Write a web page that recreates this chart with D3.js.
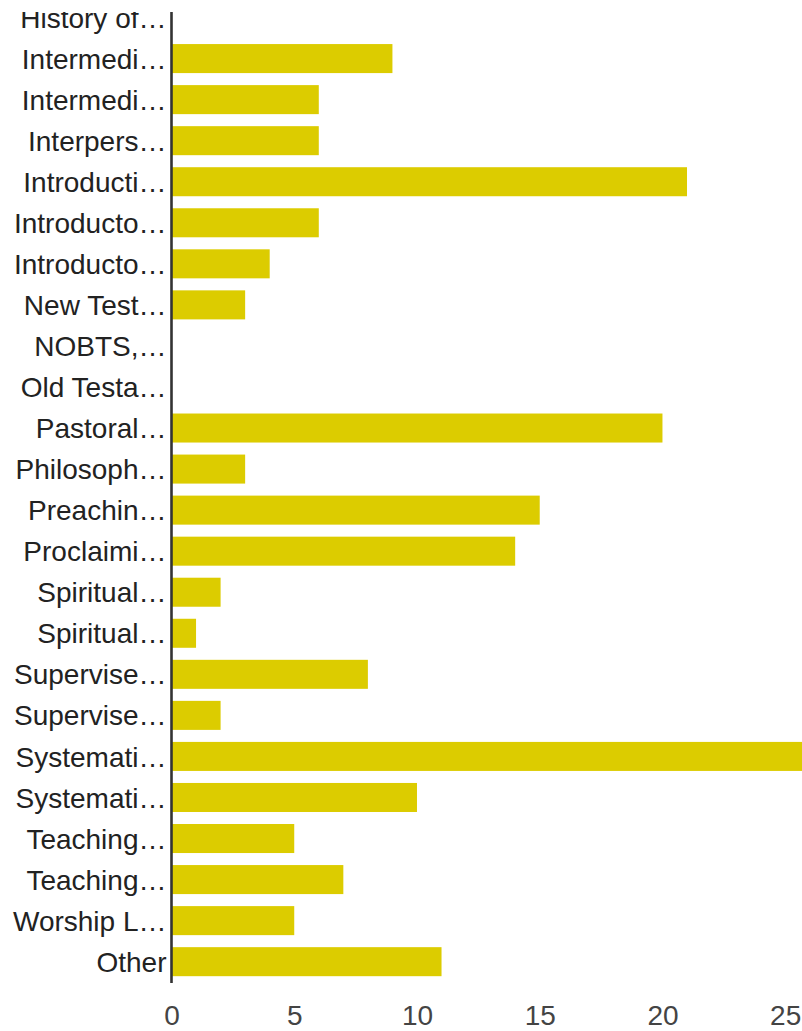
<!DOCTYPE html>
<html>
<head>
<meta charset="utf-8">
<script src="https://cdn.jsdelivr.net/npm/d3@7"></script>
<style>
  html, body { margin: 0; padding: 0; background: #fff; }
  svg { display: block; }
</style>
</head>
<body>
<svg id="chart" width="802" height="1031"></svg>
<script>
const categories = [
  "History of…", "Intermedi…", "Intermedi…", "Interpers…", "Introducti…",
  "Introducto…", "Introducto…", "New Test…", "NOBTS,…", "Old Testa…",
  "Pastoral…", "Philosoph…", "Preachin…", "Proclaimi…", "Spiritual…",
  "Spiritual…", "Supervise…", "Supervise…", "Systemati…", "Systemati…",
  "Teaching…", "Teaching…", "Worship L…", "Other"
];
const values = [0, 9, 6, 6, 21, 6, 4, 3, 0, 0, 20, 3, 15, 14, 2, 1, 8, 2, 26, 10, 5, 7, 5, 11];
const tickValues = [0, 5, 10, 15, 20, 25];

const svg = d3.select("#chart");
const font = "'Liberation Sans', Arial, Helvetica, sans-serif";

svg.append("defs").append("clipPath").attr("id", "topclip")
  .append("rect").attr("x", 0).attr("y", 12).attr("width", 802).attr("height", 1019);

const root = svg.append("g").attr("clip-path", "url(#topclip)");

const ids = categories.map((c, i) => i);
const x = d3.scaleLinear().domain([0, 25]).range([171.5, 785.2]);
const y = d3.scaleBand().domain(ids).range([-3, 982.2]).paddingInner(0.293).paddingOuter(0.1465);

// bars
root.append("g").selectAll("rect").data(values).join("rect")
  .attr("x", x(0))
  .attr("y", (d, i) => y(i))
  .attr("width", d => Math.max(0, x(d) - x(0)))
  .attr("height", y.bandwidth())
  .attr("fill", "#dccc00");

// category axis
const yAxis = root.append("g")
  .attr("transform", `translate(${x(0)},0)`)
  .call(d3.axisLeft(y).tickSize(0).tickPadding(5).tickFormat(i => categories[i]));
yAxis.select(".domain").remove();
yAxis.selectAll("text")
  .attr("font-family", font).attr("font-size", 28).attr("fill", "#222")
  .attr("dy", "0.36em");

root.append("line")
  .attr("x1", x(0)).attr("x2", x(0))
  .attr("y1", 12).attr("y2", 983)
  .attr("stroke", "#333").attr("stroke-width", 2.6);

// value axis
const xAxis = root.append("g")
  .attr("transform", "translate(0,998)")
  .call(d3.axisBottom(x).tickValues(tickValues).tickSize(0).tickPadding(0));
xAxis.select(".domain").remove();
xAxis.selectAll("text")
  .attr("font-family", font).attr("font-size", 28).attr("fill", "#444")
  .attr("dy", "0.95em");
</script>
</body>
</html>
